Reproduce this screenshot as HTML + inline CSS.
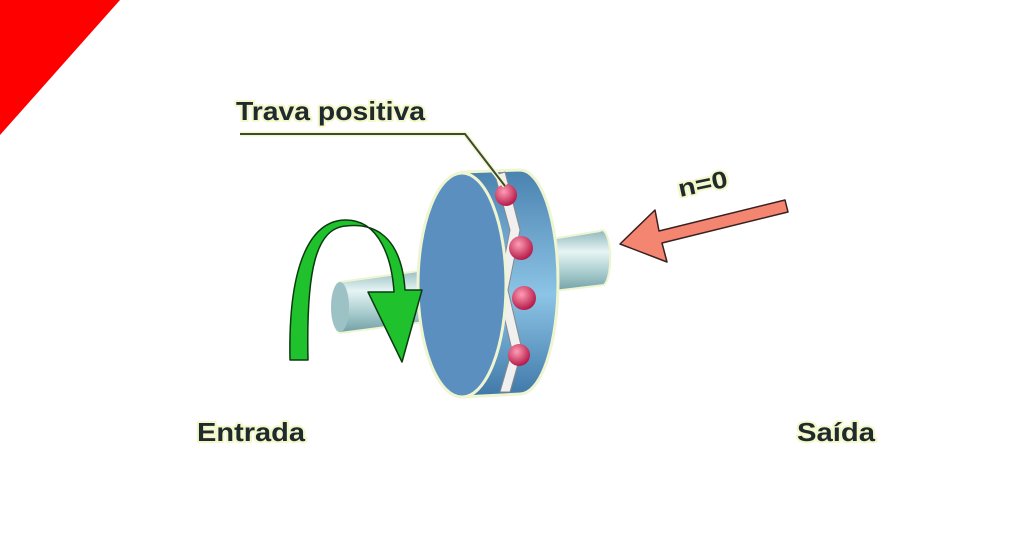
<!DOCTYPE html>
<html><head><style>
html,body{margin:0;padding:0;background:#fff;}
svg{display:block;}
text{font-family:"Liberation Sans",sans-serif;font-weight:bold;fill:#1e2a2e;}
.g{stroke:#f4f7c8;stroke-width:4;paint-order:stroke;stroke-linejoin:round;}
</style></head><body>
<svg width="1024" height="536" viewBox="0 0 1024 536" xmlns="http://www.w3.org/2000/svg">
<defs>
<linearGradient id="sh" x1="0" y1="0" x2="0" y2="1">
<stop offset="0" stop-color="#8fb8bd"/><stop offset="0.35" stop-color="#e6f4f4"/><stop offset="0.7" stop-color="#a6cacc"/><stop offset="1" stop-color="#6f9ea4"/>
</linearGradient>
<linearGradient id="rim" x1="0" y1="0" x2="0" y2="1">
<stop offset="0" stop-color="#4a82b0"/><stop offset="0.55" stop-color="#8cc4e6"/><stop offset="1" stop-color="#3f78a8"/>
</linearGradient>
<radialGradient id="ball" cx="0.4" cy="0.35" r="0.7">
<stop offset="0" stop-color="#ff9db5"/><stop offset="1" stop-color="#b01040"/>
</radialGradient>
</defs>
<polygon points="0,0 120,0 0,135" fill="#ff0000"/>
<path d="M545,240 L600,231 A8,27 0 0 1 604,285 L545,292 Z" fill="url(#sh)" stroke="#eef5d0" stroke-width="2"/>
<path d="M340,282 L440,268 L440,320 L340,333 A10,26 0 0 1 340,282 Z" fill="url(#sh)" stroke="#eef5d0" stroke-width="2"/>
<ellipse cx="340" cy="307" rx="9" ry="25" fill="#9cc2c6"/>
<path d="M462,172 L520,170 A38,112 0 0 1 520,394 L462,397 Z" fill="url(#rim)" stroke="#eef5d0" stroke-width="3"/>
<path d="M495,175 L505,172 L520,230 L508,290 L522,350 L510,392 L500,392 L512,350 L498,290 L510,230 Z" fill="#f0f0f0" stroke="#888" stroke-width="1"/>
<circle cx="506" cy="195" r="11" fill="url(#ball)"/>
<circle cx="521" cy="248" r="12" fill="url(#ball)"/>
<circle cx="524" cy="298" r="12" fill="url(#ball)"/>
<circle cx="519" cy="355" r="11" fill="url(#ball)"/>
<ellipse cx="462" cy="285" rx="44" ry="112" fill="#5b8fbf" stroke="#eef5d0" stroke-width="3"/>
<path d="M290,360 C288,265 310,220 346,220 C380,220 392,260 394,292 L368,292 L402,362 L422,290 L405,290 C402,245 382,222 346,226 C316,228 306,270 308,360 Z" fill="#1fc12c" stroke="#0b3a10" stroke-width="1.5" stroke-linejoin="round"/>
<path d="M620,244 L655,210 L659,231 L785,200 L788,212 L662,243 L667,262 Z" fill="#f48570" stroke="#3a2020" stroke-width="1.5" stroke-linejoin="round"/>
<polyline points="240,134 465,134 505,186" fill="none" stroke="#f4f7c8" stroke-width="5"/>
<polyline points="240,134 465,134 505,186" fill="none" stroke="#3a4a3a" stroke-width="2"/>
<text x="236" y="120" font-size="26" class="g" textLength="189" lengthAdjust="spacingAndGlyphs">Trava positiva</text>
<text x="680" y="197" font-size="24" class="g" transform="rotate(-12 680 197)" fill="#2a3e48" textLength="50" lengthAdjust="spacingAndGlyphs">n=0</text>
<text x="197" y="441" font-size="26" class="g" textLength="108" lengthAdjust="spacingAndGlyphs">Entrada</text>
<text x="797" y="441" font-size="26" class="g" textLength="78" lengthAdjust="spacingAndGlyphs">Saída</text>
</svg>
</body></html>
